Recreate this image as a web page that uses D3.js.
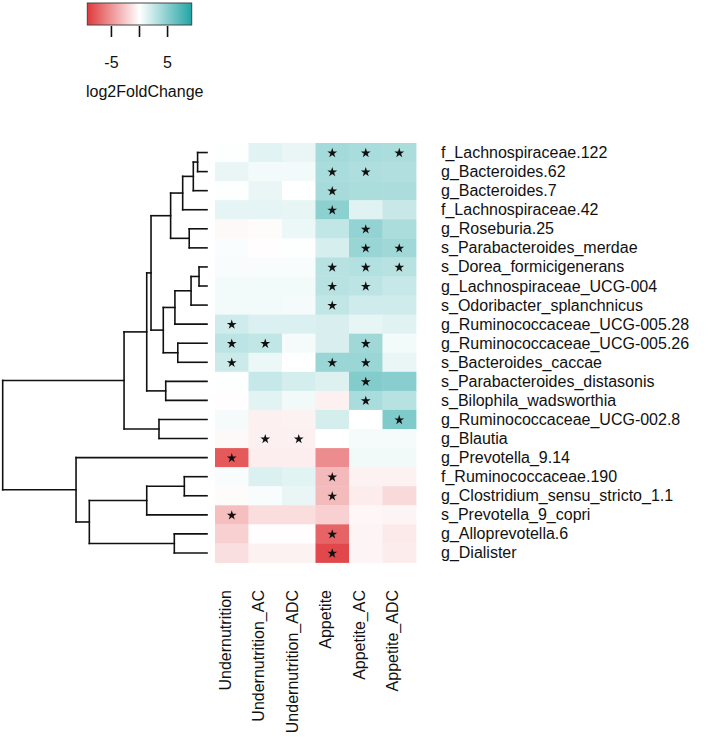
<!DOCTYPE html>
<html>
<head>
<meta charset="utf-8">
<script src="https://cdn.jsdelivr.net/npm/d3@7/dist/d3.min.js"></script>
<style>
html,body{margin:0;padding:0;background:#fff;}
svg{display:block;font-family:"Liberation Sans",Arial,sans-serif;}
</style>
</head>
<body>
<svg id="chart" width="709" height="744"></svg>
<script>
// ---- data ----
const rowLabels = [
  "f_Lachnospiraceae.122","g_Bacteroides.62","g_Bacteroides.7","f_Lachnospiraceae.42",
  "g_Roseburia.25","s_Parabacteroides_merdae","s_Dorea_formicigenerans","g_Lachnospiraceae_UCG-004",
  "s_Odoribacter_splanchnicus","g_Ruminococcaceae_UCG-005.28","g_Ruminococcaceae_UCG-005.26",
  "s_Bacteroides_caccae","s_Parabacteroides_distasonis","s_Bilophila_wadsworthia",
  "g_Ruminococcaceae_UCG-002.8","g_Blautia","g_Prevotella_9.14","f_Ruminococcaceae.190",
  "g_Clostridium_sensu_stricto_1.1","s_Prevotella_9_copri","g_Alloprevotella.6","g_Dialister"
];
const columns = ["Undernutrition","Undernutrition_AC","Undernutrition_ADC","Appetite","Appetite_AC","Appetite_ADC"];

// log2FoldChange per column (row order as rowLabels)
const undernutrition    = [0.1,0.9,0.1,1.1,-0.3,0.2,0.3,0.5,0.5,2.0,2.8,2.1,0.1,-0.1,0.4,-0.3,-7.8,0.3,-0.2,-3.0,-2.2,-1.5];
const undernutritionAC  = [1.2,0.5,0.9,1.1,-0.2,-0.1,0.3,0.5,0.5,1.5,2.6,0.8,2.4,1.2,-0.7,-0.7,-0.8,1.5,0.3,-1.6,-0.1,-0.6];
const undernutritionADC = [0.9,0.5,0.0,1.0,0.8,0.1,0.3,0.5,0.4,1.5,0.4,0.0,1.8,0.6,-0.6,-0.7,-0.8,1.2,0.9,-1.6,-0.1,-0.6];
const appetite          = [3.8,3.6,3.7,4.8,2.6,1.7,3.0,3.0,2.6,1.6,1.6,4.2,1.4,-0.7,1.8,0.0,-5.4,-3.3,-3.2,-2.2,-7.3,-8.6];
const appetiteAC        = [3.6,3.4,3.5,1.3,4.5,4.3,3.2,2.8,2.0,1.0,4.0,4.2,5.2,3.6,0.0,0.4,0.6,-0.6,-0.9,-0.4,-0.5,-0.5];
const appetiteADC       = [3.5,3.3,3.5,2.3,3.5,4.0,3.0,2.4,2.0,1.3,0.5,0.9,5.0,3.0,5.4,0.4,0.6,-0.6,-1.8,-0.5,-1.0,-0.9];

// significance marks (1 = *)
const sigUndernutrition    = [0,0,0,0,0,0,0,0,0,1,1,1,0,0,0,0,1,0,0,1,0,0];
const sigUndernutritionAC  = [0,0,0,0,0,0,0,0,0,0,1,0,0,0,0,1,0,0,0,0,0,0];
const sigUndernutritionADC = [0,0,0,0,0,0,0,0,0,0,0,0,0,0,0,1,0,0,0,0,0,0];
const sigAppetite          = [1,1,1,1,0,0,1,1,1,0,0,1,0,0,0,0,0,1,1,0,1,1];
const sigAppetiteAC        = [1,1,0,0,1,1,1,1,0,0,1,1,1,1,0,0,0,0,0,0,0,0];
const sigAppetiteADC       = [1,0,0,0,0,1,1,0,0,0,0,0,0,0,1,0,0,0,0,0,0,0];

// row dendrogram merges (hclust style: negative = leaf index (1-based), positive = earlier merge)
const merges = [
  [-1,-2,4.6],[1,-3,6.7],[2,-4,11.9],[-5,-6,8.7],[3,4,17.8],
  [-7,-8,3.9],[6,-9,7.8],[7,-10,15.7],[-11,-12,14.3],[8,9,21.4],
  [5,10,27.4],[-13,-14,20.2],[11,12,29.5],[-15,-16,23.5],[13,14,40.6],
  [-18,-19,11.1],[16,-20,29.5],[-21,-22,16.0],[17,18,57.6],[-17,19,64.1],[15,20,100]
];

const legendTicks = [-5, 0, 5];
const legendTickLabels = ["-5", "", "5"];
const legendTitle = "log2FoldChange";
const colorLimit = 9.3;

// ---- drawing ----
const svg = d3.select("#chart");
const values = [undernutrition, undernutritionAC, undernutritionADC, appetite, appetiteAC, appetiteADC];
const sigs = [sigUndernutrition, sigUndernutritionAC, sigUndernutritionADC, sigAppetite, sigAppetiteAC, sigAppetiteADC];

const color = d3.scaleLinear()
  .domain([-colorLimit, 0, colorLimit])
  .range(["#E0393C", "#FFFFFF", "#22A4A4"])
  .interpolate(d3.interpolateRgb);

const x = d3.scaleBand().domain(columns).range([215, 416]).padding(0);
const y = d3.scaleBand().domain(rowLabels).range([143, 562.5]).padding(0);

const cells = [];
columns.forEach((c, ci) => rowLabels.forEach((r, ri) => {
  cells.push({c, r, v: values[ci][ri], s: sigs[ci][ri]});
}));

svg.append("g").selectAll("rect").data(cells).join("rect")
  .attr("x", d => x(d.c))
  .attr("y", d => y(d.r))
  .attr("width", x.bandwidth() + 0.4)
  .attr("height", y.bandwidth() + 0.4)
  .attr("fill", d => color(d.v));

const star = d3.symbol().type(d3.symbolStar).size(30);
svg.append("g").selectAll("path").data(cells.filter(d => d.s)).join("path")
  .attr("d", star)
  .attr("transform", d => `translate(${x(d.c) + x.bandwidth()/2},${y(d.r) + y.bandwidth()/2 + 0.5})`)
  .attr("fill", "#111");

// row labels
svg.append("g").selectAll("text").data(rowLabels).join("text")
  .attr("x", 441)
  .attr("y", d => y(d) + y.bandwidth()/2)
  .attr("dominant-baseline", "central")
  .attr("font-size", 16)
  .attr("fill", "#111")
  .text(d => d);

// column labels
svg.append("g").selectAll("text").data(columns).join("text")
  .attr("transform", d => `translate(${x(d) + x.bandwidth()/2 - 0.8},590) rotate(-90)`)
  .attr("text-anchor", "end")
  .attr("font-size", 16)
  .attr("fill", "#111")
  .text(d => d);

// dendrogram
const hx = d3.scaleLinear().domain([0, 100]).range([207, 2.7]);
const nodes = [];
function info(id) {
  if (id < 0) {
    const lab = rowLabels[-id - 1];
    return {y: y(lab) + y.bandwidth()/2, h: 0};
  }
  return nodes[id - 1];
}
const segs = [];
merges.forEach(([a, b, h]) => {
  const A = info(a), B = info(b);
  const nx = hx(h);
  segs.push([hx(A.h), A.y, nx, A.y]);
  segs.push([hx(B.h), B.y, nx, B.y]);
  segs.push([nx, A.y, nx, B.y]);
  nodes.push({y: (A.y + B.y)/2, h});
});
svg.append("g").selectAll("line").data(segs).join("line")
  .attr("x1", d => d[0]).attr("y1", d => d[1])
  .attr("x2", d => d[2]).attr("y2", d => d[3])
  .attr("stroke", "#111").attr("stroke-width", 1.6)
  .attr("stroke-linecap", "square");

// legend
const lx = d3.scaleLinear().domain([-colorLimit, colorLimit]).range([87.3, 191.7]);
const defs = svg.append("defs");
const grad = defs.append("linearGradient").attr("id", "lg").attr("x1", "0%").attr("x2", "100%");
d3.range(0, 1.0001, 0.1).forEach(t => {
  grad.append("stop").attr("offset", (t*100) + "%").attr("stop-color", color(-colorLimit + t*2*colorLimit));
});
svg.append("rect")
  .attr("x", lx(-colorLimit)).attr("y", 3)
  .attr("width", lx(colorLimit) - lx(-colorLimit)).attr("height", 22)
  .attr("fill", "url(#lg)").attr("stroke", "#444").attr("stroke-width", 1);

const lg = svg.append("g");
lg.selectAll("line").data(legendTicks).join("line")
  .attr("x1", d => lx(d)).attr("x2", d => lx(d))
  .attr("y1", 26).attr("y2", 37)
  .attr("stroke", "#111").attr("stroke-width", 1.6);
lg.selectAll("text").data(legendTicks).join("text")
  .attr("x", d => lx(d)).attr("y", 68)
  .attr("text-anchor", "middle")
  .attr("font-size", 16).attr("fill", "#111")
  .text((d, i) => legendTickLabels[i]);
svg.append("text").attr("x", 86).attr("y", 96.5)
  .attr("font-size", 16).attr("fill", "#111")
  .text(legendTitle);
</script>
</body>
</html>
